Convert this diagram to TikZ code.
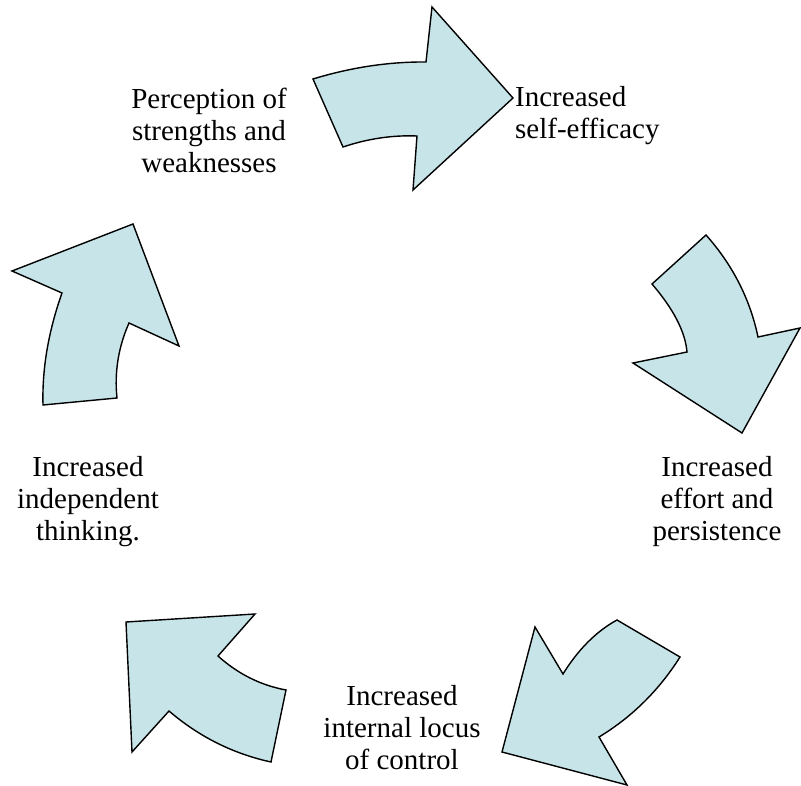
\documentclass[tikz,border=0pt]{standalone}
\usepackage{fontspec}
\setmainfont{Liberation Serif}
\definecolor{arrowfill}{RGB}{199,229,233}
\begin{document}
\begin{tikzpicture}[x=1pt,y=-1pt,
  cyc/.style={fill=arrowfill,draw=black,line width=1.4pt,line join=miter},
  lbl/.style={inner sep=0pt,align=center,font=\fontsize{29}{32}\selectfont}]
\useasboundingbox (0,0) rectangle (801,786);
% top arrow
\draw[cyc] (313,79) .. controls (351.3,67.3) and (389,61.7) .. (426,62) -- (432,7) -- (513,98) -- (413,190) -- (417,136)
  .. controls (392.3,135) and (367.7,138.7) .. (343,147) -- cycle;
% right arrow
\draw[cyc] (706,235) -- (652,284) .. controls (673.7,309.3) and (685.3,332) .. (687,352) -- (633,363) -- (742,433) -- (800,328) -- (758,337)
  .. controls (750,299) and (732.7,265) .. cycle;
% bottom right arrow
\draw[cyc] (617,620) -- (680,657) .. controls (659,690.3) and (632,717) .. (599,737) -- (627,785) -- (502,752) -- (535,627) -- (563,674)
  .. controls (578.3,649.3) and (596.3,631.3) .. cycle;
% bottom left arrow
\draw[cyc] (126,622) -- (255,614) -- (218,656) .. controls (238,674) and (260.7,685.3) .. (286,690) -- (271,762)
  .. controls (233,753.7) and (199,736.7) .. (169,711) -- (132,752) -- cycle;
% left arrow
\draw[cyc] (133,224) -- (12,271) -- (62,293) .. controls (48.3,331.7) and (42,369) .. (43,405) -- (117,398)
  .. controls (114.3,372.3) and (118.3,347.3) .. (129,323) -- (179,346) -- cycle;
% labels
\node[lbl] (perc) at (209,130) {Perception of\\strengths and\\weaknesses};
\node[lbl,anchor=west,align=left] (self) at (515,115.3) {Increased\\self-efficacy};
\node[lbl] (effort) at (717,501.3) {Increased\\effort and\\persistence};
\node[lbl] (locus) at (402,727.6) {Increased\\internal locus\\of control};
\node[lbl] (indep) at (88,501.3) {Increased\\independent\\thinking.};
\end{tikzpicture}
\end{document}
